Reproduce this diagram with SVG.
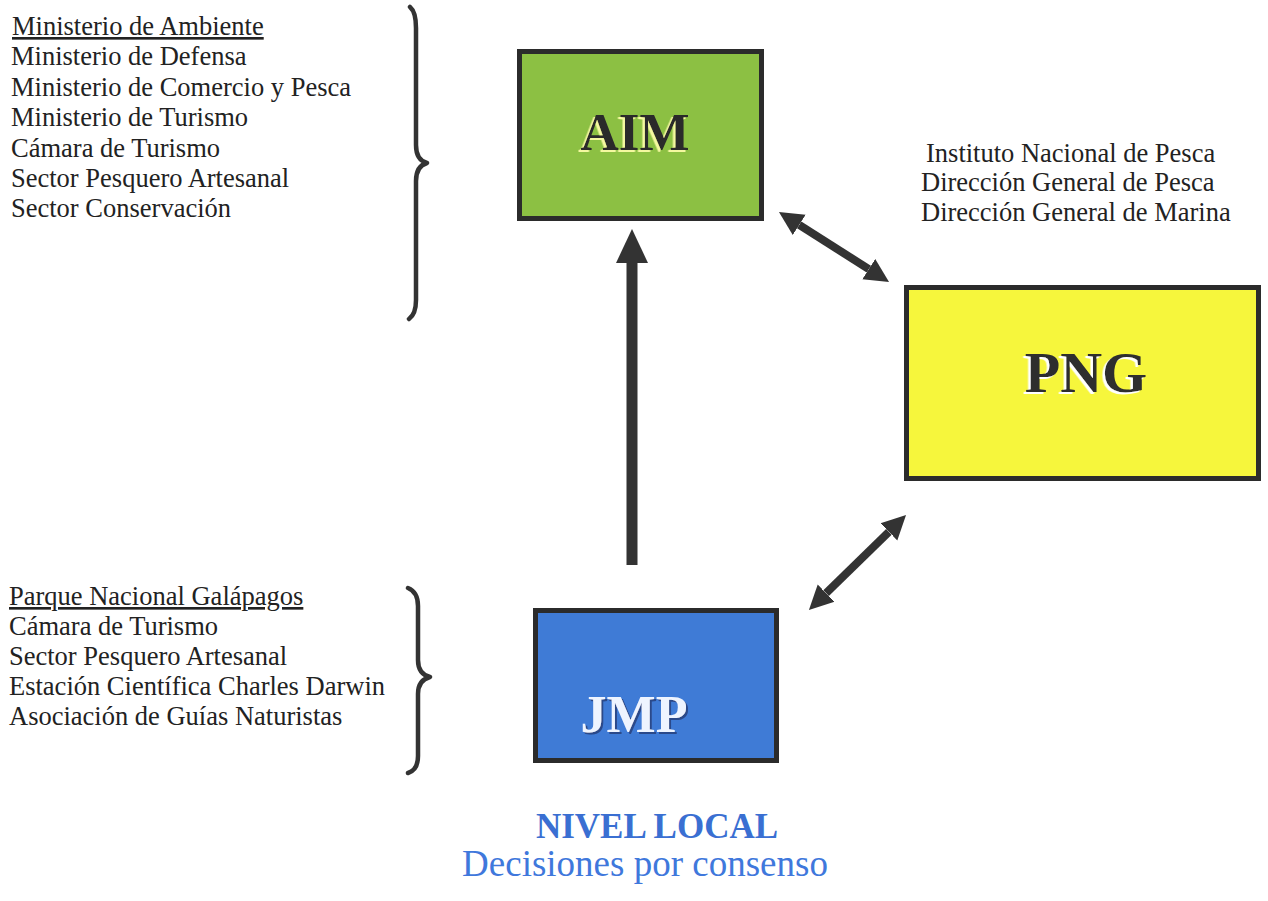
<svg xmlns="http://www.w3.org/2000/svg" width="1268" height="901" viewBox="0 0 1268 901">
<style>
.lst{font-family:"Liberation Serif","Times New Roman",serif;font-size:26.5px;fill:#222}
.box{stroke:#2b2b2b;stroke-width:5}
.lbl{font-family:"Liberation Serif","Times New Roman",serif;font-weight:bold;text-anchor:middle}
.brace{fill:none;stroke:#333;stroke-width:4.5;stroke-linecap:round;stroke-linejoin:round}
.conn{stroke:#333;fill:none}
</style>
<defs>
<marker id="hd" markerUnits="userSpaceOnUse" markerWidth="26" markerHeight="26" viewBox="0 -13 26 26" refX="0" refY="0" orient="auto-start-reverse">
<path d="M0,-12 L24,0 L0,12 z" fill="#333"/>
</marker>
<marker id="hdBig" markerUnits="userSpaceOnUse" markerWidth="36" markerHeight="36" viewBox="0 -18 36 36" refX="0" refY="0" orient="auto">
<path d="M0,-16 L34,0 L0,16 z" fill="#333"/>
</marker>
<filter id="shY" x="-10%" y="-10%" width="120%" height="130%">
<feDropShadow dx="-2.5" dy="2" stdDeviation="0.3" flood-color="#f4f8a0" flood-opacity="1"/>
</filter>
<filter id="shW" x="-10%" y="-10%" width="120%" height="130%">
<feDropShadow dx="-2.5" dy="2" stdDeviation="0.3" flood-color="#ffffff" flood-opacity="1"/>
</filter>
<filter id="shB" x="-10%" y="-10%" width="120%" height="130%">
<feDropShadow dx="2" dy="2" stdDeviation="0.3" flood-color="#2a4a8a" flood-opacity="1"/>
</filter>
</defs>
<rect width="1268" height="901" fill="#ffffff"/>

<g id="list-top">
<text class="lst" x="12" y="35" text-decoration="underline">Ministerio de Ambiente</text>
<text class="lst" x="11" y="65">Ministerio de Defensa</text>
<text class="lst" x="11" y="96">Ministerio de Comercio y Pesca</text>
<text class="lst" x="11" y="126">Ministerio de Turismo</text>
<text class="lst" x="11" y="157">Cámara de Turismo</text>
<text class="lst" x="11" y="187">Sector Pesquero Artesanal</text>
<text class="lst" x="11" y="217">Sector Conservación</text>
<path class="brace" d="M410,7 Q416,12 416,28 L416,145 Q416,160 427,163 Q416,166 416,181 L416,300 Q416,314 409,319"/>
</g>

<g id="list-bottom">
<text class="lst" x="9" y="605" text-decoration="underline">Parque Nacional Galápagos</text>
<text class="lst" x="9" y="635">Cámara de Turismo</text>
<text class="lst" x="9" y="665">Sector Pesquero Artesanal</text>
<text class="lst" x="9" y="695">Estación Científica Charles Darwin</text>
<text class="lst" x="9" y="725">Asociación de Guías Naturistas</text>
<path class="brace" d="M408,588 Q418,592 418,606 L418,660 Q418,674 430,677 Q418,680 418,694 L418,756 Q418,770 408,773"/>
</g>

<g id="list-right">
<text class="lst" x="926" y="162">Instituto Nacional de Pesca</text>
<text class="lst" x="921" y="191">Dirección General de Pesca</text>
<text class="lst" x="921" y="221">Dirección General de Marina</text>
</g>

<g id="connectors">
<line class="conn" x1="632" y1="565" x2="632" y2="263" stroke-width="11" marker-end="url(#hdBig)"/>
<line class="conn" x1="799.2" y1="224.9" x2="868.8" y2="269.1" stroke-width="8" marker-start="url(#hd)" marker-end="url(#hd)"/>
<line class="conn" x1="888.9" y1="531.8" x2="826.1" y2="593.2" stroke-width="8" marker-start="url(#hd)" marker-end="url(#hd)"/>
</g>

<g id="node-aim">
<rect class="box" x="519.5" y="51.5" width="242" height="167" fill="#8cc043"/>
<text class="lbl" x="635" y="150" font-size="53" fill="#2a2a2a" filter="url(#shY)">AIM</text>
</g>

<g id="node-png">
<rect class="box" x="906.5" y="287.5" width="352" height="191" fill="#f6f63c"/>
<text class="lbl" x="1086" y="392" font-size="58" fill="#2e2e2e" filter="url(#shW)">PNG</text>
</g>

<g id="node-jmp">
<rect class="box" x="535.5" y="610.5" width="241" height="150" fill="#3f7bd6"/>
<text class="lbl" x="634" y="732" font-size="52" fill="#eef4ff" filter="url(#shB)">JMP</text>
</g>

<g id="caption">
<text x="657" y="838" font-family="Liberation Serif, Times New Roman, serif" font-weight="bold" font-size="35" fill="#3a6fd2" text-anchor="middle">NIVEL LOCAL</text>
<text x="645" y="876" font-family="Liberation Serif, Times New Roman, serif" font-size="37" fill="#3f78dc" text-anchor="middle">Decisiones por consenso</text>
</g>
</svg>
